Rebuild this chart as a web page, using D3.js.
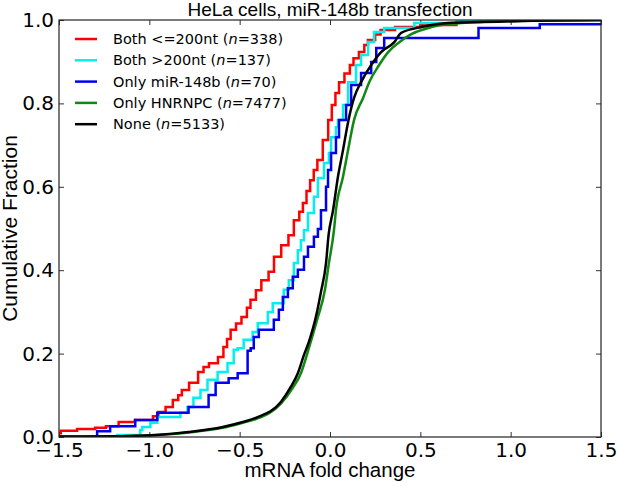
<!DOCTYPE html>
<html>
<head>
<meta charset="utf-8">
<script src="https://cdn.jsdelivr.net/npm/d3@7"></script>
<style>
  html, body { margin: 0; padding: 0; background: #fff; }
  svg { display: block; }
</style>
</head>
<body>
<svg id="chart" width="617" height="486"></svg>
<script>
// ---- Data ----
const title = "HeLa cells, miR-148b transfection";
const xLabel = "mRNA fold change";
const yLabel = "Cumulative Fraction";
const xTicks = [-1.5, -1.0, -0.5, 0.0, 0.5, 1.0, 1.5];
const yTicks = [0.0, 0.2, 0.4, 0.6, 0.8, 1.0];

const seriesNames = ["Both <=200nt", "Both >200nt", "Only miR-148b", "Only HNRNPC", "None"];
const seriesN = [338, 137, 70, 7477, 5133];
const seriesColors = ["#ff0000", "#00f0f0", "#0000ee", "#118811", "#000000"];

// Both <=200nt (step ECDF)
const redX = [-1.55,-1.49,-1.40,-1.30,-1.24,-1.17,-1.08,-0.98,-0.95,-0.91,-0.87,-0.84,-0.82,-0.78,-0.73,-0.70,-0.67,-0.62,-0.59,-0.57,-0.55,-0.52,-0.49,-0.46,-0.44,-0.41,-0.38,-0.34,-0.31,-0.27,-0.23,-0.20,-0.17,-0.15,-0.13,-0.11,-0.09,-0.07,-0.04,-0.01,0.01,0.03,0.05,0.08,0.11,0.13,0.16,0.19,0.21,0.25,0.28,0.36,0.50,0.70,0.84,0.90];
const redY = [0.009,0.015,0.019,0.022,0.026,0.036,0.041,0.050,0.060,0.072,0.089,0.100,0.113,0.130,0.156,0.168,0.177,0.192,0.216,0.235,0.257,0.272,0.288,0.310,0.329,0.352,0.376,0.396,0.432,0.460,0.484,0.520,0.540,0.561,0.590,0.616,0.640,0.664,0.712,0.760,0.796,0.825,0.851,0.872,0.892,0.908,0.923,0.940,0.952,0.965,0.976,0.983,0.988,0.995,0.998,1.0];

// Both >200nt (step ECDF)
const cyanX = [-1.178,-1.05,-1.039,-0.994,-0.956,-0.828,-0.789,-0.756,-0.717,-0.678,-0.622,-0.567,-0.533,-0.511,-0.478,-0.428,-0.40,-0.344,-0.317,-0.256,-0.228,-0.20,-0.178,-0.161,-0.144,-0.122,-0.089,-0.067,-0.033,-0.006,0.006,0.033,0.044,0.072,0.10,0.144,0.172,0.211,0.244,0.30,0.467,0.71];
const cyanY = [0.005,0.017,0.024,0.034,0.048,0.058,0.072,0.094,0.113,0.137,0.156,0.177,0.209,0.213,0.233,0.252,0.273,0.300,0.321,0.353,0.376,0.417,0.448,0.472,0.496,0.537,0.576,0.621,0.657,0.681,0.719,0.743,0.760,0.796,0.851,0.892,0.916,0.947,0.971,0.981,0.993,1.0];

// Only miR-148b (step ECDF)
const blueX = [-1.289,-1.217,-1.078,-0.956,-0.783,-0.672,-0.633,-0.561,-0.511,-0.456,-0.439,-0.422,-0.394,-0.311,-0.283,-0.261,-0.233,-0.206,-0.178,-0.144,-0.122,-0.089,-0.067,-0.050,-0.022,-0.011,0.006,0.033,0.050,0.089,0.117,0.172,0.228,0.256,0.30,0.822,1.161];
const blueY = [0.014,0.026,0.041,0.058,0.072,0.101,0.130,0.141,0.153,0.207,0.213,0.240,0.257,0.281,0.305,0.336,0.357,0.384,0.401,0.432,0.456,0.480,0.499,0.544,0.600,0.640,0.681,0.719,0.760,0.796,0.844,0.873,0.899,0.933,0.957,0.981,0.990,1.0];

// Only HNRNPC (smooth ECDF)
const greenX = [-1.5,-1.15,-0.783,-0.594,-0.483,-0.411,-0.272,-0.206,-0.161,-0.128,-0.117,-0.072,-0.028,-0.006,0.022,0.033,0.072,0.10,0.133,0.183,0.217,0.272,0.322,0.378,0.45,0.561,0.728,1.06,1.5];
const greenY = [0.001,0.002,0.011,0.022,0.034,0.043,0.080,0.118,0.153,0.197,0.213,0.280,0.353,0.417,0.496,0.544,0.624,0.688,0.760,0.813,0.851,0.892,0.923,0.945,0.966,0.983,0.993,0.998,1.0];

// None (smooth ECDF)
const blackX = [-1.5,-1.15,-0.783,-0.594,-0.483,-0.411,-0.272,-0.217,-0.178,-0.144,-0.117,-0.094,-0.072,-0.05,-0.022,-0.008,0.017,0.044,0.072,0.10,0.133,0.172,0.228,0.283,0.356,0.394,0.506,0.656,0.839,1.117,1.5];
const blackY = [0.001,0.002,0.012,0.024,0.036,0.046,0.084,0.120,0.153,0.197,0.228,0.261,0.300,0.348,0.417,0.484,0.544,0.624,0.688,0.755,0.813,0.851,0.892,0.923,0.947,0.969,0.983,0.993,0.995,0.998,1.0];

// ---- Layout ----
const W = 617, H = 486;
const plotL = 59, plotR = 601, plotT = 20, plotB = 437;

const svg = d3.select("#chart");
const x = d3.scaleLinear().domain([-1.5, 1.5]).range([plotL, plotR]);
const y = d3.scaleLinear().domain([0, 1]).range([plotB, plotT]);

svg.append("defs").append("clipPath").attr("id", "clip")
  .append("rect").attr("x", plotL).attr("y", plotT)
  .attr("width", plotR - plotL).attr("height", plotB - plotT);

const fmt = d3.format(".1f");
const tickFont = "DejaVu Sans, sans-serif";

// Bottom axis (labels)
const gB = svg.append("g").attr("transform", `translate(0,${plotB})`)
  .call(d3.axisBottom(x).tickValues(xTicks).tickFormat(fmt).tickSizeInner(-5).tickSizeOuter(0).tickPadding(6));
// Left axis (labels)
const gL = svg.append("g").attr("transform", `translate(${plotL},0)`)
  .call(d3.axisLeft(y).tickValues(yTicks).tickFormat(fmt).tickSizeInner(-5).tickSizeOuter(0).tickPadding(5));
// Top and right axes (ticks only)
const gT = svg.append("g").attr("transform", `translate(0,${plotT})`)
  .call(d3.axisTop(x).tickValues(xTicks).tickFormat("").tickSizeInner(-5).tickSizeOuter(0));
const gR = svg.append("g").attr("transform", `translate(${plotR},0)`)
  .call(d3.axisRight(y).tickValues(yTicks).tickFormat("").tickSizeInner(-5).tickSizeOuter(0));

[gB, gL, gT, gR].forEach(g => {
  g.select(".domain").remove();
  g.selectAll(".tick line").attr("stroke", "#333").attr("stroke-width", 1);
  g.selectAll(".tick text").attr("font-family", tickFont).attr("font-size", 20).attr("fill", "#000");
});

// Curves
const plot = svg.append("g").attr("clip-path", "url(#clip)");
const stepLine = d3.line().x(d => x(d[0])).y(d => y(d[1])).curve(d3.curveStepAfter);
const smoothLine = d3.line().x(d => x(d[0])).y(d => y(d[1])).curve(d3.curveMonotoneX);

const series = [
  { xs: redX, ys: redY, gen: stepLine },
  { xs: cyanX, ys: cyanY, gen: stepLine },
  { xs: blueX, ys: blueY, gen: stepLine },
  { xs: greenX, ys: greenY, gen: smoothLine },
  { xs: blackX, ys: blackY, gen: smoothLine }
];
series.forEach((s, i) => {
  let pts = s.xs.map((v, k) => [v, s.ys[k]]);
  if (s.gen === stepLine) {
    pts = [[s.xs[0], 0]].concat(pts).concat([[1.6, s.ys[s.ys.length - 1]]]);
  }
  plot.append("path").datum(pts)
    .attr("d", s.gen)
    .attr("fill", "none")
    .attr("stroke", seriesColors[i])
    .attr("stroke-width", 2.5)
    .attr("stroke-linejoin", "miter");
});

// Frame
svg.append("rect").attr("x", plotL).attr("y", plotT)
  .attr("width", plotR - plotL).attr("height", plotB - plotT)
  .attr("fill", "none").attr("stroke", "#222").attr("stroke-width", 1.2);

// Title and axis labels
svg.append("text").attr("x", (plotL + plotR) / 2).attr("y", 16)
  .attr("text-anchor", "middle").attr("font-family", "Liberation Sans, Arial, sans-serif")
  .attr("font-size", 19).text(title);
svg.append("text").attr("x", (plotL + plotR) / 2).attr("y", 477)
  .attr("text-anchor", "middle").attr("font-family", "Liberation Sans, Arial, sans-serif")
  .attr("font-size", 20.5).text(xLabel);
svg.append("text")
  .attr("transform", `translate(17,${(plotT + plotB) / 2}) rotate(-90)`)
  .attr("text-anchor", "middle").attr("font-family", "Liberation Sans, Arial, sans-serif")
  .attr("font-size", 21).text(yLabel);

// Legend
const leg = svg.append("g");
const legY0 = 39, legDy = 21.3;
seriesNames.forEach((name, i) => {
  const cy = legY0 + i * legDy;
  leg.append("line").attr("x1", 75).attr("x2", 97).attr("y1", cy).attr("y2", cy)
    .attr("stroke", seriesColors[i]).attr("stroke-width", 2.5);
  const t = leg.append("text").attr("x", 113).attr("y", cy + 5)
    .attr("font-family", tickFont).attr("font-size", 14.5).attr("fill", "#000");
  t.append("tspan").text(name + " (");
  t.append("tspan").attr("font-style", "italic").text("n");
  t.append("tspan").text("=" + seriesN[i] + ")");
});
</script>
</body>
</html>
